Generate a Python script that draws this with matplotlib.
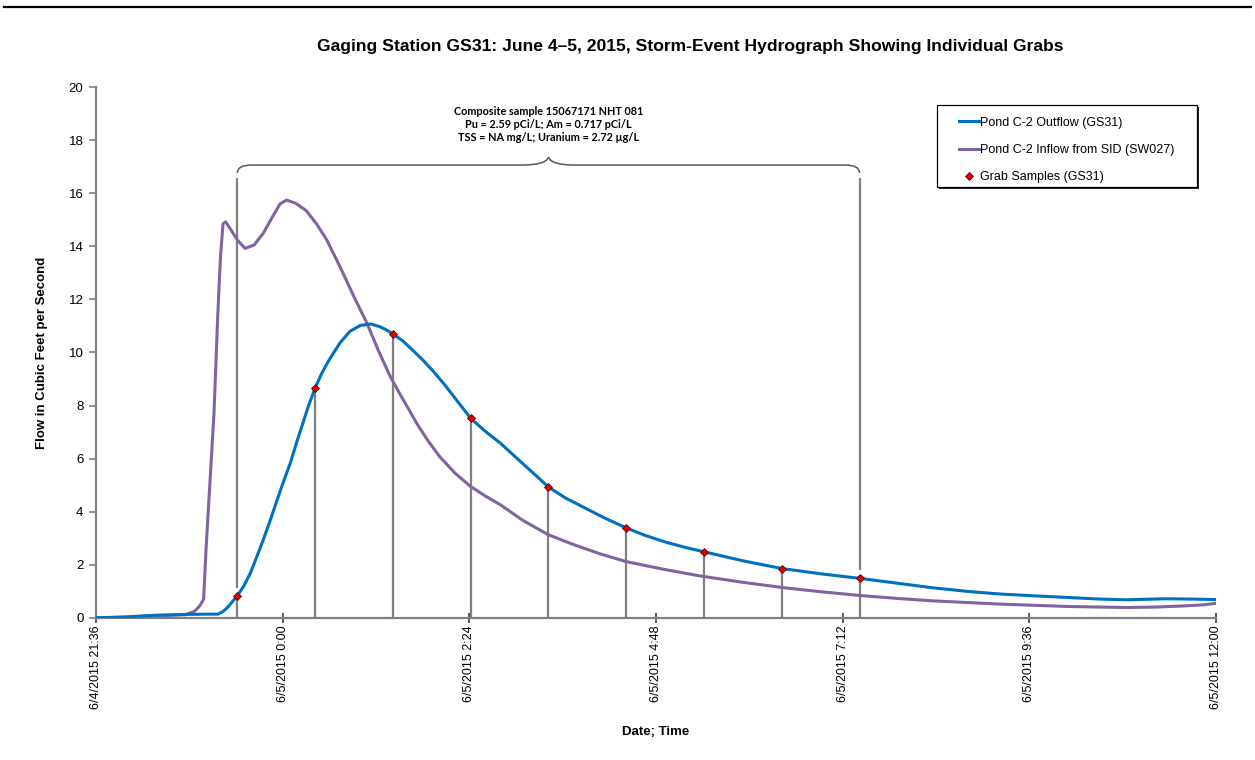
import matplotlib.pyplot as plt
import matplotlib.dates as mdates
from matplotlib.ticker import FuncFormatter
from matplotlib.path import Path
from matplotlib.patches import PathPatch, Rectangle
from matplotlib.lines import Line2D
from datetime import datetime, timedelta

plt.rcParams['font.family'] = ['Liberation Sans', 'DejaVu Sans']

# times are hh:mm, before midnight = 6/4/2015, after = 6/5/2015
inflow_t = ['21:36', '22:00', '22:20', '22:35', '22:45', '22:52', '22:56', '22:59', '23:01', '23:04',
            '23:07', '23:10', '23:12', '23:14', '23:16', '23:19', '23:25', '23:31', '23:38', '23:45',
            '23:52', '23:58', '0:03', '0:10', '0:18', '0:26', '0:34', '0:44', '0:49', '0:54',
            '1:00', '1:05', '1:14', '1:23', '1:30', '1:37', '1:43', '1:52', '2:01', '2:13', '2:25',
            '2:36', '2:48', '3:05', '3:25', '3:45', '4:05', '4:25', '4:55', '5:22', '5:55',
            '6:26', '6:56', '7:26', '7:55', '8:22', '9:13', '10:05', '10:51', '11:15', '11:35',
            '11:50', '12:00']
inflow_q = [0.0, 0.02, 0.09, 0.1, 0.12, 0.25, 0.45, 0.7, 2.7, 5.2,
            7.7, 11.5, 13.6, 14.85, 14.92, 14.7, 14.24, 13.92, 14.05, 14.49,
            15.1, 15.6, 15.74, 15.62, 15.35, 14.85, 14.24, 13.25, 12.73, 12.2,
            11.6, 11.1, 10.05, 9.09, 8.47, 7.88, 7.36, 6.68, 6.08, 5.45, 4.95,
            4.6, 4.26, 3.68, 3.13, 2.75, 2.41, 2.12, 1.82, 1.58, 1.34,
            1.14, 0.98, 0.84, 0.73, 0.64, 0.52, 0.43, 0.39, 0.41, 0.45,
            0.49, 0.55]

outflow_t = ['21:36', '22:00', '22:23', '22:45', '23:00', '23:10', '23:14', '23:18', '23:21', '23:25',
             '23:30', '23:35', '23:40', '23:45', '23:50', '23:55', '0:00', '0:06', '0:11', '0:16',
             '0:20', '0:25', '0:30', '0:35', '0:44', '0:52', '1:00', '1:08', '1:15', '1:20',
             '1:25', '1:33', '1:40', '1:48', '1:56', '2:05', '2:15', '2:25', '2:36', '2:48',
             '3:05', '3:15', '3:25', '3:38', '3:52', '4:08', '4:25', '4:40', '4:55', '5:10',
             '5:25', '5:55', '6:25', '6:55', '7:25', '7:55', '8:22', '8:50', '9:13', '9:40',
             '10:05', '10:30', '10:51', '11:05', '11:20', '11:40', '12:00']
outflow_q = [0.0, 0.04, 0.1, 0.13, 0.14, 0.14, 0.24, 0.42, 0.6, 0.83,
             1.2, 1.68, 2.3, 2.94, 3.62, 4.34, 5.05, 5.85, 6.65, 7.4,
             8.0, 8.66, 9.2, 9.65, 10.35, 10.8, 11.02, 11.07, 10.97, 10.85,
             10.7, 10.42, 10.1, 9.72, 9.3, 8.78, 8.15, 7.52, 7.04, 6.58,
             5.82, 5.38, 4.93, 4.52, 4.17, 3.77, 3.39, 3.1, 2.86, 2.66,
             2.49, 2.15, 1.86, 1.66, 1.49, 1.3, 1.13, 0.99, 0.9, 0.83,
             0.77, 0.71, 0.68, 0.7, 0.72, 0.71, 0.69]

grab_t = ['23:25', '0:25', '1:25', '2:25', '3:25', '4:25', '5:25', '6:25', '7:25']
grab_q = [0.83, 8.66, 10.70, 7.53, 4.93, 3.39, 2.49, 1.86, 1.49]

composite_text = ('Composite sample 15067171 NHT 081\n'
                  'Pu = 2.59 pCi/L; Am = 0.717 pCi/L\n'
                  'TSS = NA mg/L; Uranium = 2.72 \u00b5g/L')


def to_dt(s):
    h, m = map(int, s.split(':'))
    day = 4 if h >= 21 else 5
    return datetime(2015, 6, day, h, m)


t_in = [to_dt(s) for s in inflow_t]
t_out = [to_dt(s) for s in outflow_t]
t_grab = [to_dt(s) for s in grab_t]

fig = plt.figure(figsize=(12.55, 7.6), dpi=100)
ax = fig.add_axes([0.0765, 0.187, 0.8925, 0.6985])

gray = '#7f7f7f'
ax.vlines(t_grab, 0, grab_q, color=gray, lw=1.6, zorder=1)
ax.plot(t_out, outflow_q, color='#0070C0', lw=2.2, label='Pond C-2 Outflow (GS31)', zorder=3)
ax.plot(t_in, inflow_q, color='#8064A2', lw=2.2, label='Pond C-2 Inflow from SID (SW027)', zorder=2)
ax.plot(t_grab, grab_q, ls='none', marker='D', ms=4.5, color='#E00000', mec='#600000', mew=0.6,
        label='Grab Samples (GS31)', zorder=4)

# brace over the composite period
x0 = mdates.date2num(t_grab[0])
x1 = mdates.date2num(t_grab[-1])
xm = (x0 + x1) / 2
d = 11 / 1440
dm = 20 / 1440
yb, yh, yt = 16.76, 17.06, 17.36
verts = [(x0, yb), (x0, yh), (x0 + d, yh),
         (xm - dm, yh), (xm - 2 / 1440, yh), (xm, yt),
         (xm + 2 / 1440, yh), (xm + dm, yh),
         (x1 - d, yh), (x1, yh), (x1, yb)]
codes = [Path.MOVETO, Path.CURVE3, Path.CURVE3,
         Path.LINETO, Path.CURVE3, Path.CURVE3,
         Path.CURVE3, Path.CURVE3,
         Path.LINETO, Path.CURVE3, Path.CURVE3]
ax.add_patch(PathPatch(Path(verts, codes), fill=False, ec='#595959', lw=1.1, zorder=1))
ax.vlines([t_grab[0]], grab_q[0] + 0.3, 16.57, color=gray, lw=1.6, zorder=1)
ax.vlines([t_grab[-1]], grab_q[-1] + 0.3, 16.57, color=gray, lw=1.6, zorder=1)
ax.text(xm, 19.3, composite_text, ha='center', va='top', fontsize=7.8, fontweight='bold',
        family=['Lato', 'DejaVu Sans'], linespacing=1.25)

start = datetime(2015, 6, 4, 21, 36)
ticks = [start + timedelta(minutes=144 * i) for i in range(7)]
ax.set_xlim(ticks[0], ticks[-1])
ax.set_xticks(ticks)
ax.xaxis.set_major_formatter(FuncFormatter(
    lambda v, p: (lambda dt: f'{dt.month}/{dt.day}/{dt.year} {dt.hour}:{dt.minute:02d}')(mdates.num2date(v))))
ax.set_ylim(0, 20)
ax.set_yticks(range(0, 21, 2))

for s in ['top', 'right']:
    ax.spines[s].set_visible(False)
for s in ['left', 'bottom']:
    ax.spines[s].set_color('#808080')
    ax.spines[s].set_linewidth(1.6)
ax.tick_params(axis='y', direction='out', length=5, width=1.2, color='#808080', labelsize=9.5, pad=4)
ax.tick_params(axis='x', direction='inout', length=7, width=1.2, color='#404040', labelsize=9, pad=2,
               labelrotation=90)

ax.set_ylabel('Flow in Cubic Feet per Second', fontsize=9.5, fontweight='bold', labelpad=15)
ax.set_xlabel('Date; Time', fontsize=9.5, fontweight='bold', labelpad=12)
fig.text(0.55, 0.939, 'Gaging Station GS31: June 4\u20135, 2015, Storm-Event Hydrograph Showing Individual Grabs',
         ha='center', va='center', fontsize=12.6, fontweight='bold')

# legend frame with dark drop shadow, then the entries without their own frame
fig.add_artist(Rectangle((0.7482, 0.7513), 0.2072, 0.1079, transform=fig.transFigure,
                         fc='black', ec='none', alpha=0.85, zorder=5))
fig.add_artist(Rectangle((0.7466, 0.7539), 0.2072, 0.1079, transform=fig.transFigure,
                         fc='white', ec='black', lw=0.9, zorder=6))
handles, labels = ax.get_legend_handles_labels()
leg = fig.legend(handles, labels, loc='upper left', bbox_to_anchor=(0.7641, 0.8465),
                 fontsize=9, frameon=False, handlelength=1.6, handletextpad=0.1,
                 labelspacing=1.22, borderpad=0, borderaxespad=0)
leg.set_zorder(7)

fig.add_artist(Line2D([0.003, 0.997], [0.991, 0.991], color='black', lw=1.6, transform=fig.transFigure))

fig.savefig('out.png', dpi=100)
